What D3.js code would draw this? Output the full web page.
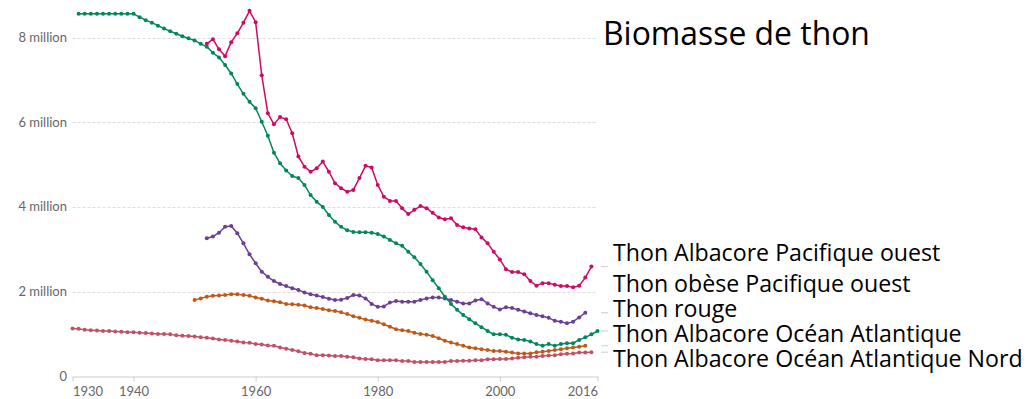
<!DOCTYPE html>
<html>
<head>
<meta charset="utf-8">
<script src="https://cdn.jsdelivr.net/npm/d3@7"></script>
<style>
  html, body { margin: 0; padding: 0; background: #fff; }
  svg { display: block; }
</style>
</head>
<body>
<svg id="chart" width="1031" height="399"></svg>
<script>
// Tuna biomass, in millions of tonnes, one array per stock (first year + yearly values)
const albacorePacifiqueOuestStart = 1952;
const albacorePacifiqueOuest = [
  7.85, 7.96, 7.72, 7.56, 7.89, 8.10, 8.35, 8.63, 8.36, 7.11,
  6.21, 5.95, 6.12, 6.07, 5.74, 5.19, 4.95, 4.83, 4.91, 5.07,
  4.83, 4.56, 4.44, 4.36, 4.40, 4.68, 4.97, 4.93, 4.52, 4.24,
  4.14, 4.14, 3.97, 3.83, 3.93, 4.02, 3.97, 3.86, 3.75, 3.71,
  3.73, 3.57, 3.52, 3.49, 3.47, 3.28, 3.14, 2.94, 2.76, 2.53,
  2.46, 2.46, 2.41, 2.25, 2.14, 2.20, 2.20, 2.16, 2.13, 2.13,
  2.10, 2.14, 2.33, 2.59
];

const thonObeseStart = 1952;
const thonObese = [
  3.26, 3.30, 3.39, 3.53, 3.55, 3.38, 3.14, 2.88, 2.67, 2.47,
  2.35, 2.25, 2.18, 2.13, 2.08, 2.04, 1.98, 1.94, 1.91, 1.87,
  1.83, 1.80, 1.81, 1.85, 1.92, 1.91, 1.84, 1.71, 1.64, 1.65,
  1.74, 1.78, 1.76, 1.76, 1.76, 1.80, 1.84, 1.86, 1.86, 1.84,
  1.80, 1.76, 1.72, 1.72, 1.79, 1.82, 1.72, 1.64, 1.58, 1.63,
  1.61, 1.57, 1.53, 1.49, 1.45, 1.42, 1.38, 1.31, 1.29, 1.25,
  1.29, 1.39, 1.50
];

const thonRougeStart = 1931;
const thonRouge = [
  8.56, 8.56, 8.56, 8.56, 8.56, 8.56, 8.56, 8.56, 8.56, 8.56,
  8.48, 8.41, 8.35, 8.28, 8.21, 8.15, 8.09, 8.03, 7.98, 7.93,
  7.85, 7.78, 7.64, 7.53, 7.35, 7.15, 6.90, 6.67, 6.48, 6.33,
  6.01, 5.68, 5.28, 5.03, 4.86, 4.73, 4.68, 4.52, 4.28, 4.12,
  4.00, 3.81, 3.65, 3.53, 3.45, 3.41, 3.40, 3.40, 3.39, 3.36,
  3.30, 3.22, 3.14, 3.08, 2.94, 2.81, 2.65, 2.47, 2.27, 2.08,
  1.88, 1.71, 1.57, 1.45, 1.35, 1.25, 1.16, 1.07, 0.99, 0.99,
  0.98, 0.91, 0.87, 0.86, 0.82, 0.76, 0.72, 0.76, 0.72, 0.76,
  0.78, 0.78, 0.86, 0.92, 0.99, 1.07
];

const albacoreAtlantiqueStart = 1950;
const albacoreAtlantique = [
  1.80, 1.84, 1.88, 1.90, 1.91, 1.92, 1.94, 1.94, 1.92, 1.90,
  1.86, 1.83, 1.79, 1.77, 1.75, 1.71, 1.70, 1.69, 1.67, 1.63,
  1.61, 1.59, 1.56, 1.54, 1.51, 1.47, 1.42, 1.38, 1.34, 1.31,
  1.28, 1.23, 1.17, 1.11, 1.09, 1.07, 1.03, 1.00, 0.98, 0.95,
  0.90, 0.84, 0.80, 0.76, 0.72, 0.68, 0.66, 0.64, 0.62, 0.60,
  0.60, 0.58, 0.56, 0.54, 0.54, 0.54, 0.57, 0.58, 0.60, 0.62,
  0.64, 0.66, 0.68, 0.70, 0.72
];

const albacoreAtlantiqueNordStart = 1930;
const albacoreAtlantiqueNord = [
  1.13, 1.12, 1.10, 1.09, 1.08, 1.07, 1.07, 1.06, 1.05, 1.04,
  1.04, 1.03, 1.02, 1.01, 1.00, 1.00, 0.99, 0.97, 0.96, 0.95,
  0.94, 0.92, 0.91, 0.89, 0.87, 0.86, 0.84, 0.82, 0.80, 0.79,
  0.76, 0.75, 0.73, 0.72, 0.68, 0.65, 0.62, 0.59, 0.55, 0.53,
  0.50, 0.50, 0.49, 0.48, 0.48, 0.46, 0.45, 0.42, 0.41, 0.40,
  0.38, 0.38, 0.38, 0.38, 0.36, 0.36, 0.34, 0.34, 0.34, 0.34,
  0.34, 0.34, 0.36, 0.36, 0.37, 0.37, 0.38, 0.38, 0.40, 0.40,
  0.41, 0.41, 0.42, 0.44, 0.45, 0.46, 0.46, 0.48, 0.49, 0.50,
  0.52, 0.53, 0.54, 0.56, 0.56, 0.57
];

const seriesNames = [
  "Thon Albacore Pacifique ouest",
  "Thon obèse Pacifique ouest",
  "Thon rouge",
  "Thon Albacore Océan Atlantique",
  "Thon Albacore Océan Atlantique Nord"
];
const seriesColors = ["#cf0a66", "#6d3e91", "#00875e", "#c05917", "#c15065"];

const xTickValues = [1930, 1940, 1960, 1980, 2000, 2016];
const yTickValues = [0, 2, 4, 6, 8];
const yTickLabels = ["0", "2 million", "4 million", "6 million", "8 million"];
const title = "Biomasse de thon";

// Build the series table from the arrays above
function toPoints(start, values) {
  return values.map((v, i) => ({ year: start + i, value: v }));
}
const series = [
  toPoints(albacorePacifiqueOuestStart, albacorePacifiqueOuest),
  toPoints(thonObeseStart, thonObese),
  toPoints(thonRougeStart, thonRouge),
  toPoints(albacoreAtlantiqueStart, albacoreAtlantique),
  toPoints(albacoreAtlantiqueNordStart, albacoreAtlantiqueNord)
].map((pts, i) => ({ name: seriesNames[i], color: seriesColors[i], points: pts }));

const svg = d3.select("#chart");

const x = d3.scaleLinear().domain([1930, 2016]).range([72.5, 597.5]);
const y = d3.scaleLinear().domain([0, 8]).range([376.3, 37.5]);

// Horizontal grid lines (dashed) for the non-zero ticks
svg.append("g")
  .selectAll("line")
  .data(yTickValues.filter(d => d > 0))
  .join("line")
  .attr("x1", x(1930))
  .attr("x2", x(2016))
  .attr("y1", d => Math.round(y(d)) + 0.5)
  .attr("y2", d => Math.round(y(d)) + 0.5)
  .attr("stroke", "#dddddd")
  .attr("stroke-width", 1)
  .attr("stroke-dasharray", "3,2");

// Y axis labels
svg.append("g")
  .selectAll("text")
  .data(yTickValues)
  .join("text")
  .attr("x", 67)
  .attr("y", d => y(d))
  .attr("dy", "0.35em")
  .attr("text-anchor", "end")
  .attr("font-family", "Lato, sans-serif")
  .attr("font-size", 13)
  .attr("fill", "#666666")
  .text((d, i) => yTickLabels[i]);

// X axis
const xAxis = d3.axisBottom(x)
  .tickValues(xTickValues)
  .tickFormat(d3.format("d"))
  .tickSize(5)
  .tickSizeOuter(0);

const gx = svg.append("g")
  .attr("transform", `translate(0,${Math.round(y(0)) + 0.5})`)
  .call(xAxis);
gx.select(".domain").attr("stroke", "#cccccc");
gx.selectAll(".tick line").attr("stroke", "#cccccc");
gx.selectAll(".tick text")
  .attr("font-family", "Lato, sans-serif")
  .attr("font-size", 13)
  .attr("fill", "#666666")
  .attr("dy", "0.9em")
  .attr("text-anchor", d => d === 1930 ? "start" : d === 2016 ? "end" : "middle");

// Lines and markers
const line = d3.line().x(d => x(d.year)).y(d => y(d.value));

const gSeries = svg.append("g")
  .selectAll("g")
  .data(series)
  .join("g");

gSeries.append("path")
  .attr("d", d => line(d.points))
  .attr("fill", "none")
  .attr("stroke", d => d.color)
  .attr("stroke-width", 1.5)
  .attr("stroke-linejoin", "round");

gSeries.each(function (s) {
  d3.select(this).selectAll("circle")
    .data(s.points)
    .join("circle")
    .attr("cx", d => x(d.year))
    .attr("cy", d => y(d.value))
    .attr("r", 2)
    .attr("fill", s.color);
});

// Small connectors at the end of each line, toward the labels
svg.append("g")
  .selectAll("line")
  .data(series)
  .join("line")
  .attr("x1", 601)
  .attr("x2", 608)
  .attr("y1", d => y(d.points[d.points.length - 1].value))
  .attr("y2", d => y(d.points[d.points.length - 1].value))
  .attr("stroke", "#cccccc")
  .attr("stroke-width", 1);

// Series labels
const labelBaselines = [261, 292, 317, 342, 367];
const labels = svg.append("g")
  .selectAll("text")
  .data(series)
  .join("text")
  .attr("x", 613)
  .attr("y", (d, i) => labelBaselines[i])
  .attr("font-family", "'Open Sans', sans-serif")
  .attr("font-size", 21)
  .attr("fill", "#000000")
  .text(d => d.name);

// Fit the longest label to its width
const longest = labels.nodes().reduce((m, n) => Math.max(m, n.getComputedTextLength()), 0);
labels.attr("font-size", 21 * 410 / longest);

// Title
const t = svg.append("text")
  .attr("x", 603)
  .attr("y", 45)
  .attr("font-family", "'Open Sans', sans-serif")
  .attr("font-size", 28)
  .attr("fill", "#000000")
  .text(title);
t.attr("font-size", 28 * 267 / t.node().getComputedTextLength());
</script>
</body>
</html>
